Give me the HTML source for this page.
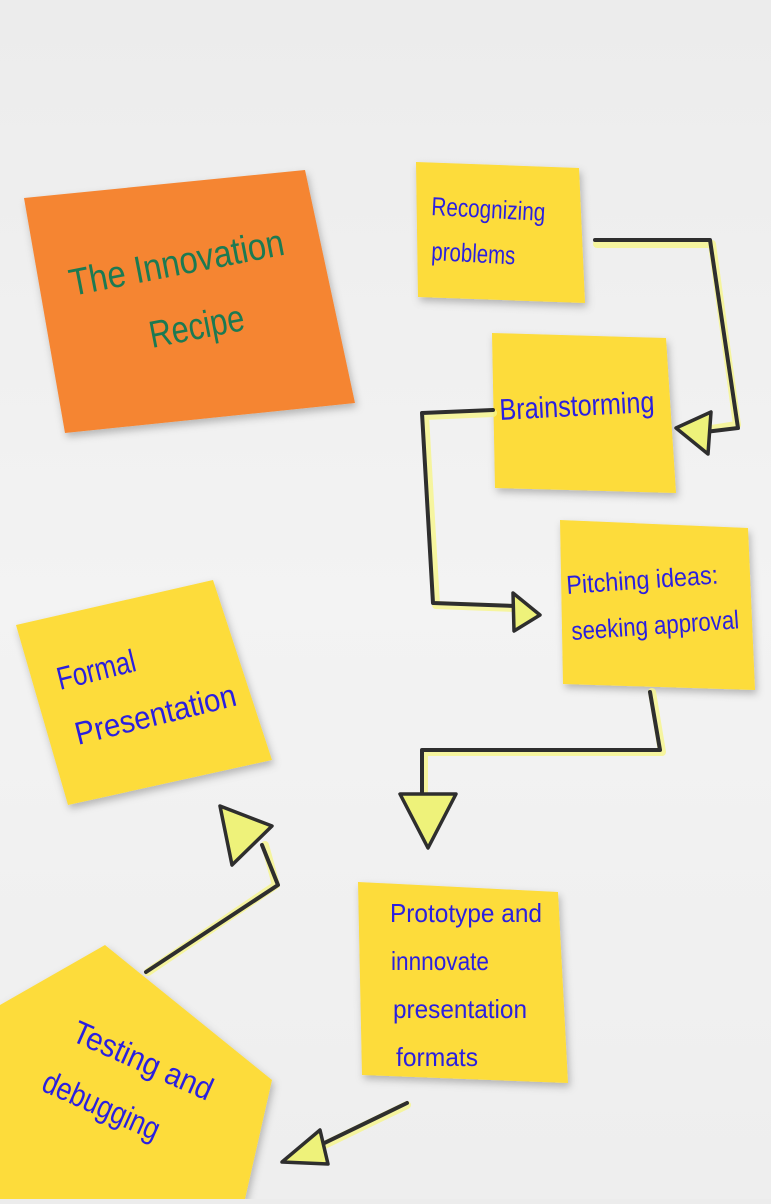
<!DOCTYPE html>
<html><head><meta charset="utf-8"><style>
html,body{margin:0;padding:0;}
body{width:771px;height:1199px;overflow:hidden;background:linear-gradient(180deg,#ececec 0%,#f3f3f3 50%,#eeeeee 100%);}
svg text{font-family:"Liberation Sans Narrow","Liberation Sans",sans-serif;}
</style></head><body>
<svg width="771" height="1199" viewBox="0 0 771 1199" xmlns="http://www.w3.org/2000/svg">
<defs>
<filter id="sh" x="-20%" y="-20%" width="140%" height="140%"><feDropShadow dx="2" dy="4" stdDeviation="4" flood-color="#000" flood-opacity="0.25"/></filter>
</defs>
<polygon points="24,198 305,170 355,403 65,433" fill="#f58532" filter="url(#sh)"/>
<polygon points="416,162 579,168 585,303 418,297" fill="#fddc3a" filter="url(#sh)"/>
<polygon points="492,333 666,338 676,493 495,488" fill="#fddc3a" filter="url(#sh)"/>
<polygon points="560,520 748,528 755,690 563,684" fill="#fddc3a" filter="url(#sh)"/>
<polygon points="16,625 213,580 272,760 68,805" fill="#fddc3a" filter="url(#sh)"/>
<polygon points="358,882 558,892 568,1083 362,1075" fill="#fddc3a" filter="url(#sh)"/>
<polygon points="0,1005 105,945 272,1080 245,1199 0,1199" fill="#fddc3a" filter="url(#sh)"/>

<g fill="none" stroke-linejoin="round" stroke-linecap="round">
 <g stroke="#f6f58a" stroke-width="8" opacity="0.8">
  <path d="M597,244 L712,244 L737,425 L705,430"/>
  <path d="M493,413 L425,416 L436,605 L515,608"/>
  <path d="M652,692 L662,752 L424,752 L424,795"/>
  <path d="M148,972 L276,885 L265,845"/>
  <path d="M407,1105 L310,1152"/>
 </g>
 <g stroke="#2e2e2e" stroke-width="4">
  <path d="M595,240 L710,240 L738,428 L705,432"/>
  <path d="M493,410 L422,413 L433,603 L515,606"/>
  <path d="M650,692 L660,750 L422,750 L422,795"/>
  <path d="M146,972 L278,885 L262,845"/>
  <path d="M407,1103 L310,1150"/>
 </g>
 <g stroke="#2e2e2e" stroke-width="3.5" fill="#eef27a">
  <polygon points="676,428 711,412 708,454"/>
  <polygon points="513,593 540,615 514,631"/>
  <polygon points="400,794 456,794 428,848"/>
  <polygon points="220,806 272,826 232,865"/>
  <polygon points="282,1162 320,1130 328,1164"/>
 </g>
</g>

<g font-size="38" fill="#1c7a52" lengthAdjust="spacingAndGlyphs">
 <text x="72" y="296" textLength="218" lengthAdjust="spacingAndGlyphs" transform="rotate(-11 72 296)">The Innovation</text>
 <text x="152" y="348" textLength="96" lengthAdjust="spacingAndGlyphs" transform="rotate(-11 152 348)">Recipe</text>
</g>
<g fill="#2a1fe0" font-size="26">
 <text x="431" y="215" textLength="114" lengthAdjust="spacingAndGlyphs" transform="rotate(3 431 215)">Recognizing</text>
 <text x="431" y="260" textLength="84" lengthAdjust="spacingAndGlyphs" transform="rotate(3 431 260)">problems</text>
 <text x="500" y="420" font-size="30" textLength="155" lengthAdjust="spacingAndGlyphs" transform="rotate(-3 500 420)">Brainstorming</text>
 <text x="567" y="594" textLength="152" lengthAdjust="spacingAndGlyphs" transform="rotate(-4 567 594)">Pitching ideas:</text>
 <text x="572" y="640" textLength="168" lengthAdjust="spacingAndGlyphs" transform="rotate(-4 572 640)">seeking approval</text>
 <text x="60" y="690" font-size="32" textLength="80" lengthAdjust="spacingAndGlyphs" transform="rotate(-14 60 690)">Formal</text>
 <text x="78" y="745" font-size="32" textLength="165" lengthAdjust="spacingAndGlyphs" transform="rotate(-14 78 745)">Presentation</text>
 <text x="390" y="922" textLength="152" lengthAdjust="spacingAndGlyphs">Prototype and</text>
 <text x="391" y="970" textLength="98" lengthAdjust="spacingAndGlyphs">innnovate</text>
 <text x="393" y="1018" textLength="134" lengthAdjust="spacingAndGlyphs">presentation</text>
 <text x="396" y="1066" textLength="82" lengthAdjust="spacingAndGlyphs">formats</text>
 <text x="70" y="1040" font-size="32" textLength="150" lengthAdjust="spacingAndGlyphs" transform="rotate(24 70 1040)">Testing and</text>
 <text x="40" y="1090" font-size="32" textLength="125" lengthAdjust="spacingAndGlyphs" transform="rotate(24 40 1090)">debugging</text>
</g>
</svg>
</body></html>
